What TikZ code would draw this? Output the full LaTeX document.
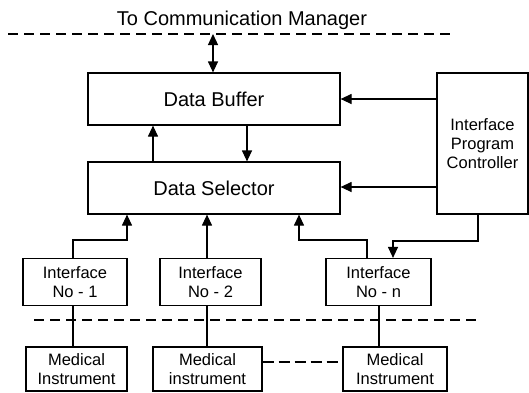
\documentclass[tikz,border=0pt]{standalone}
\usepackage{fontspec}
\setmainfont{Liberation Sans}
\usetikzlibrary{arrows.meta}
\begin{document}
\begin{tikzpicture}[x=1pt,y=-1pt,line width=1.2pt,
  box/.style={draw,line width=1.2pt,inner sep=0pt,align=center,font=\fontsize{16.5}{19}\selectfont},
  big/.style={font=\fontsize{20}{22}\selectfont},
  tip/.tip={Triangle[length=11pt,width=10pt]},
  arr/.style={-tip},
  dash line/.style={dash pattern=on 10pt off 6pt}]
\useasboundingbox (0,0) rectangle (529,392);

% title and top boundary
\node[big] (title) at (242,20) {To Communication Manager};
\coordinate (topL) at (8,34);
\coordinate (topR) at (453,34);
\coordinate (bus) at (213,34);
\draw[dash line] (topL) -- (topR);

% main boxes
\node[box,big,minimum width=252pt,minimum height=52pt] (buf) at (214,99) {Data Buffer};
\node[box,big,minimum width=252pt,minimum height=52pt] (sel) at (214,188) {Data Selector};
\node[box,minimum width=91pt,minimum height=141pt] (ipc) at (482.5,143.5) {Interface\\Program\\Controller};

% interfaces
\node[box,minimum width=104pt,minimum height=47pt] (if1) at (75,282) {Interface\\No - 1};
\node[box,minimum width=101pt,minimum height=47pt] (if2) at (210.5,282) {Interface\\No - 2};
\node[box,minimum width=105pt,minimum height=47pt] (ifn) at (378.5,282) {Interface\\No - n};

% instruments
\node[box,minimum width=101pt,minimum height=44pt] (m1) at (76.5,369) {Medical\\Instrument};
\node[box,minimum width=109pt,minimum height=44pt] (m2) at (207.5,369) {Medical\\instrument};
\node[box,minimum width=104pt,minimum height=44pt] (m3) at (395,369) {Medical\\Instrument};

% helper coordinates
\coordinate (xa) at (153,0);
\coordinate (xb) at (247,0);
\coordinate (ya) at (0,99);
\coordinate (yb) at (0,187);
\coordinate (xc) at (478,0);
\coordinate (xd) at (393,0);
\coordinate (yc) at (0,241);
\coordinate (yd) at (0,240);
\coordinate (x1) at (73,0);
\coordinate (x1b) at (127,0);
\coordinate (x2) at (207,0);
\coordinate (x3) at (367,0);
\coordinate (x3b) at (299,0);
\coordinate (x4) at (379,0);
\coordinate (ye) at (0,362);
\coordinate (lowL) at (34,320);
\coordinate (lowR) at (480,320);

% connectors
\draw[tip-tip] (bus) -- (bus |- buf.north);
\draw[arr] (sel.north -| xa) -- (buf.south -| xa);
\draw[arr] (buf.south -| xb) -- (sel.north -| xb);
\draw[arr] (ipc.west |- ya) -- (buf.east |- ya);
\draw[arr] (ipc.west |- yb) -- (sel.east |- yb);
\draw[arr] (ipc.south -| xc) -- (xc |- yc) -- (xd |- yc) -- (ifn.north -| xd);
\draw[arr] (if1.north -| x1) -- (x1 |- yd) -- (x1b |- yd) -- (sel.south -| x1b);
\draw[arr] (if2.north -| x2) -- (sel.south -| x2);
\draw[arr] (ifn.north -| x3) -- (x3 |- yd) -- (x3b |- yd) -- (sel.south -| x3b);

% lower boundary
\draw[dash line] (lowL) -- (lowR);

% interface to instrument links
\draw (if1.south -| x1) -- (m1.north -| x1);
\draw (if2.south -| x2) -- (m2.north -| x2);
\draw (ifn.south -| x4) -- (m3.north -| x4);
\draw[dash pattern=on 11pt off 5pt] (m2.east |- ye) -- (m3.west |- ye);
\end{tikzpicture}
\end{document}
